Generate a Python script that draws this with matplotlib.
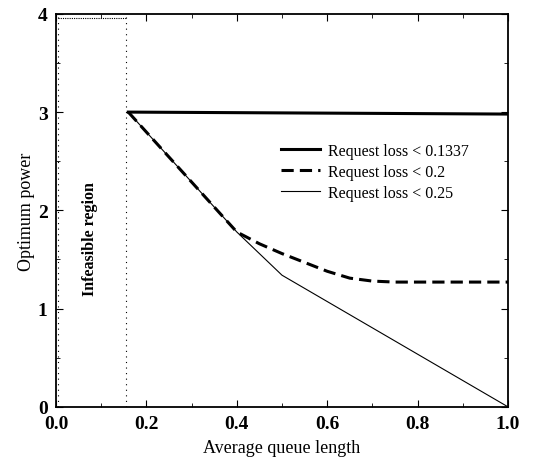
import matplotlib
matplotlib.use("Agg")
import matplotlib.pyplot as plt
from matplotlib.ticker import MultipleLocator

plt.rcParams['font.family'] = ['Liberation Serif', 'DejaVu Serif']

# data
q_01337 = [0.16, 1.0]
p_01337 = [3.0, 2.98]

q_02 = [0.16, 0.40, 0.45, 0.50, 0.55, 0.60, 0.65, 0.70, 0.75, 1.0]
p_02 = [3.0, 1.78, 1.66, 1.56, 1.47, 1.38, 1.31, 1.28, 1.27, 1.27]

q_025 = [0.16, 0.40, 0.50, 1.0]
p_025 = [3.0, 1.78, 1.34, 0.0]

xticks = [0.0, 0.2, 0.4, 0.6, 0.8, 1.0]
xticklabels = ['0.0', '0.2', '0.4', '0.6', '0.8', '1.0']
yticks = [0, 1, 2, 3, 4]

infeas_x = 0.155

fig = plt.figure(figsize=(5.41, 4.64), dpi=100)
ax = fig.add_axes([0.1035, 0.121, 0.8355, 0.847])

ax.plot(q_01337, p_01337, color='black', lw=2.2, label='Request loss < 0.1337')
ax.plot(q_02, p_02, color='black', lw=2.2, ls=(0, (4, 2)), label='Request loss < 0.2')
ax.plot(q_025, p_025, color='black', lw=0.8, label='Request loss < 0.25')

# infeasible region boundary
ax.plot([infeas_x, infeas_x], [0, 4], color='black', lw=0.8, ls=(0, (1, 4)))
ax.plot([0.005, 0.005], [0, 4], color='black', lw=0.8, ls=(0, (1, 4)))
ax.plot([0.005, infeas_x], [3.96, 3.96], color='black', lw=0.8, ls=(0, (1, 1)))
ax.text(0.075, 1.72, 'Infeasible region', rotation=90, ha='center', va='center',
        fontsize=11.5, fontweight='bold')

ax.set_xlim(0, 1.0)
ax.set_ylim(0, 4)
ax.set_xticks(xticks)
ax.set_xticklabels(xticklabels, fontweight='bold')
ax.set_yticks(yticks)
ax.set_yticklabels([str(v) for v in yticks], fontweight='bold')
ax.xaxis.set_minor_locator(MultipleLocator(0.1))
ax.yaxis.set_minor_locator(MultipleLocator(0.5))
ax.tick_params(which='both', direction='in', top=True, right=True)
ax.tick_params(which='major', length=5, labelsize=14)
ax.tick_params(which='minor', length=3)
ax.tick_params(axis='x', pad=6)
ax.tick_params(axis='y', pad=6)
for s in ax.spines.values():
    s.set_linewidth(1.3)

ax.set_xlabel('Average queue length', fontsize=13, labelpad=5)
ax.set_ylabel('Optimum power', fontsize=13, labelpad=2)

ax.legend(loc='center left', bbox_to_anchor=(0.465, 0.598), frameon=False,
          fontsize=11.5, handlelength=2.5, handletextpad=0.5, labelspacing=0.3)

fig.savefig('out.png', dpi=100)
